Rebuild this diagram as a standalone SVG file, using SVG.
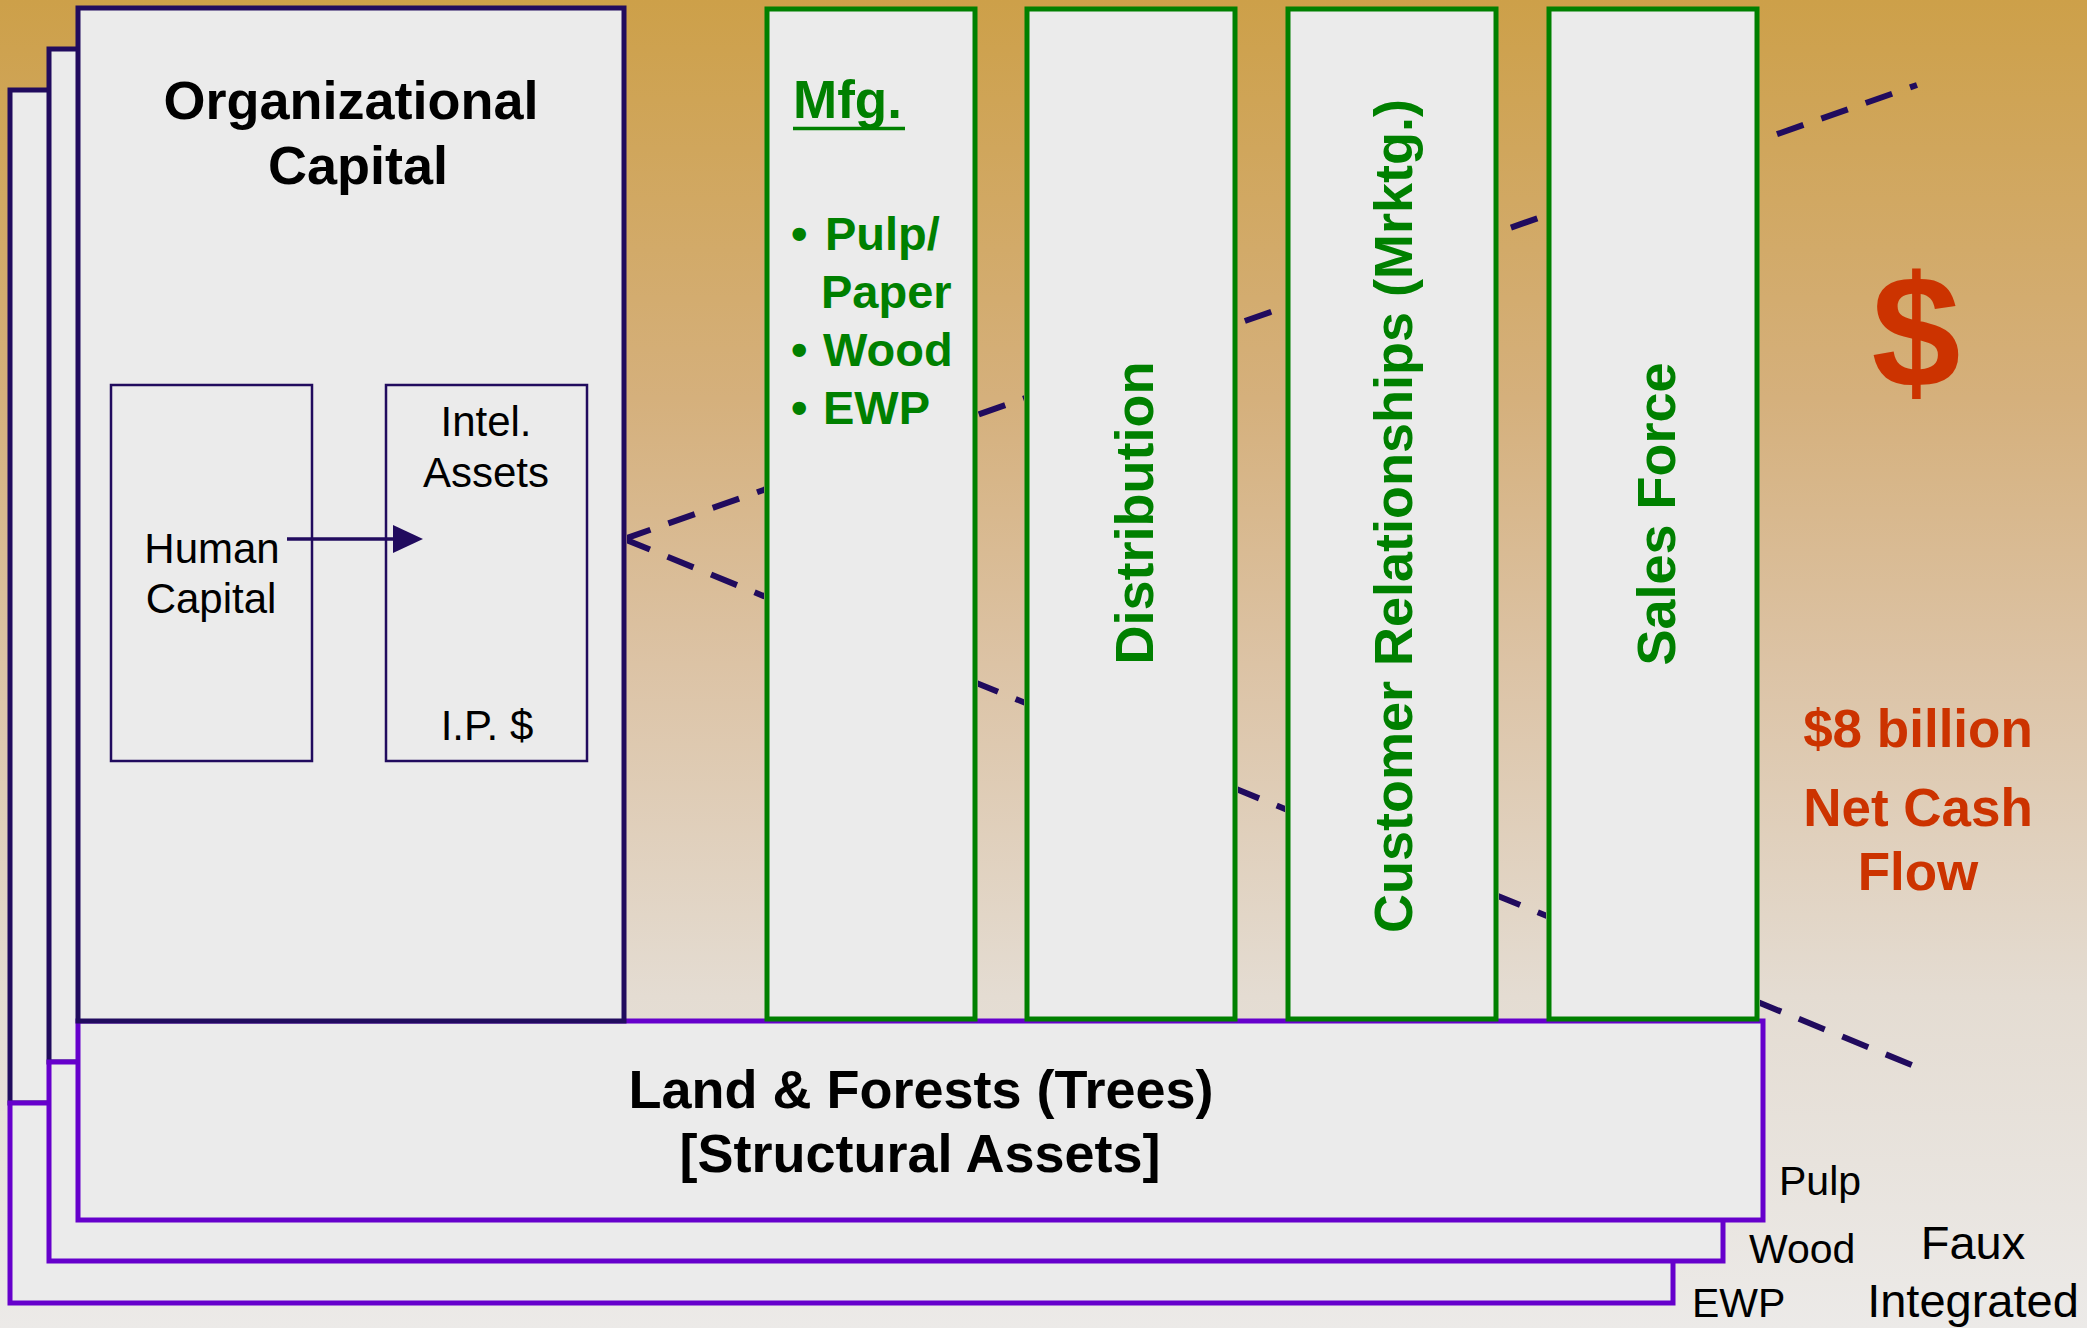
<svg xmlns="http://www.w3.org/2000/svg" width="2087" height="1328" viewBox="0 0 2087 1328">
<defs>
<linearGradient id="bg" x1="0" y1="0" x2="0" y2="1">
<stop offset="0" stop-color="#CDA049"/>
<stop offset="0.3" stop-color="#D5B07C"/>
<stop offset="0.5" stop-color="#DCC3A5"/>
<stop offset="0.75" stop-color="#E4DCD2"/>
<stop offset="1" stop-color="#ECEAE8"/>
</linearGradient>
<marker id="tri" markerUnits="userSpaceOnUse" markerWidth="30" markerHeight="28" viewBox="0 0 30 28" refX="0" refY="14" orient="auto">
<path d="M0,0 L30,14 L0,28 z" fill="#210B5E"/>
</marker>
<clipPath id="gaps">
<path clip-rule="evenodd" d="M0,0 H2087 V1328 H0 Z M75,5 H627 V1024 H75 Z M764,6 H978 V1022 H764 Z M1024,6 H1238 V1022 H1024 Z M1285,6 H1499 V1022 H1285 Z M1546,6 H1760 V1022 H1546 Z"/>
</clipPath>
<style>
text{font-family:"Liberation Sans",Arial,Helvetica,sans-serif}
.dark{fill:#EBEBEB;stroke:#210B5E;stroke-width:5}
.purp{fill:#EBEBEB;stroke:#6600CC;stroke-width:5}
.col{fill:#EBEBEB;stroke:#008000;stroke-width:5}
.inner{fill:#EBEBEB;stroke:#210B5E;stroke-width:2.5}
.dash{fill:none;stroke:#210B5E;stroke-width:6;stroke-dasharray:28 19}
.bk{fill:#000;font-weight:bold;font-size:54px;text-anchor:middle}
.reg{fill:#000;font-size:42px;text-anchor:middle}
.grn{fill:#008000;font-weight:bold;font-size:47px}
.vt{fill:#008000;font-weight:bold;font-size:54px;text-anchor:middle}
.red{fill:#CC3300;font-weight:bold;font-size:53px;text-anchor:middle}
.sm{fill:#000;font-size:41px}
</style>
</defs>
<rect x="0" y="0" width="2087" height="1328" fill="url(#bg)"/>

<g id="layer-ewp">
<rect class="dark" x="10" y="90" width="546" height="1013"/>
<rect class="purp" x="10" y="1103" width="1663" height="200"/>
</g>
<g id="layer-wood">
<rect class="dark" x="49" y="49" width="546" height="1013"/>
<rect class="purp" x="49" y="1062" width="1674" height="199"/>
</g>

<g id="land-forests">
<rect class="purp" x="78" y="1021" width="1685" height="199"/>
<text class="bk" x="921" y="1108">Land &amp; Forests (Trees)</text>
<text class="bk" x="920" y="1172">[Structural Assets]</text>
</g>

<g id="organizational-capital">
<rect class="dark" x="78" y="8" width="546" height="1013"/>
<text class="bk" x="351" y="119">Organizational</text>
<text class="bk" x="358" y="184">Capital</text>
</g>

<g id="human-capital">
<rect class="inner" x="111" y="385" width="201" height="376"/>
<text class="reg" x="212" y="563">Human</text>
<text class="reg" x="211" y="613">Capital</text>
</g>

<g id="intel-assets">
<rect class="inner" x="386" y="385" width="201" height="376"/>
<text class="reg" x="486" y="436">Intel.</text>
<text class="reg" x="486" y="487">Assets</text>
<text class="reg" x="487" y="740">I.P. $</text>
</g>

<g id="mfg">
<rect class="col" x="767" y="9" width="208" height="1010"/>
<text class="grn" x="793" y="118" style="font-size:53px">Mfg.</text>
<line x1="793" y1="128.5" x2="905" y2="128.5" stroke="#008000" stroke-width="3.5"/>
<text class="grn" x="791" y="250">•</text>
<text class="grn" x="825" y="250">Pulp/</text>
<text class="grn" x="821" y="308">Paper</text>
<text class="grn" x="791" y="366">•</text>
<text class="grn" x="823" y="366">Wood</text>
<text class="grn" x="791" y="424">•</text>
<text class="grn" x="823" y="424">EWP</text>
</g>

<g id="distribution">
<rect class="col" x="1027" y="9" width="208" height="1010"/>
<text class="vt" transform="translate(1153,513) rotate(-90)">Distribution</text>
</g>

<g id="customer-relationships">
<rect class="col" x="1288" y="9" width="208" height="1010"/>
<text class="vt" transform="translate(1412,516) rotate(-90)">Customer Relationships (Mrktg.)</text>
</g>

<g id="sales-force">
<rect class="col" x="1549" y="9" width="208" height="1010"/>
<text class="vt" transform="translate(1675,514) rotate(-90)">Sales Force</text>
</g>

<g id="net-cash-flow">
<text class="red" x="1916" y="387" style="font-size:160px">$</text>
<text class="red" x="1918" y="747">$8 billion</text>
<text class="red" x="1918" y="826">Net Cash</text>
<text class="red" x="1918" y="890">Flow</text>
</g>

<g id="labels">
<text class="sm" x="1779" y="1195">Pulp</text>
<text class="sm" x="1749" y="1263">Wood</text>
<text class="sm" x="1692" y="1317">EWP</text>
<text class="sm" x="1973" y="1259" style="font-size:47px;text-anchor:middle">Faux</text>
<text class="sm" x="1973" y="1317" style="font-size:47px;text-anchor:middle">Integrated</text>
</g>

<g id="connectors">
<g clip-path="url(#gaps)">
<line class="dash" x1="624" y1="539" x2="1917" y2="85"/>
<line class="dash" x1="624" y1="539" x2="1929" y2="1072"/>
</g>
<line x1="287" y1="539" x2="393" y2="539" stroke="#210B5E" stroke-width="3.5" marker-end="url(#tri)"/>
</g>
</svg>
